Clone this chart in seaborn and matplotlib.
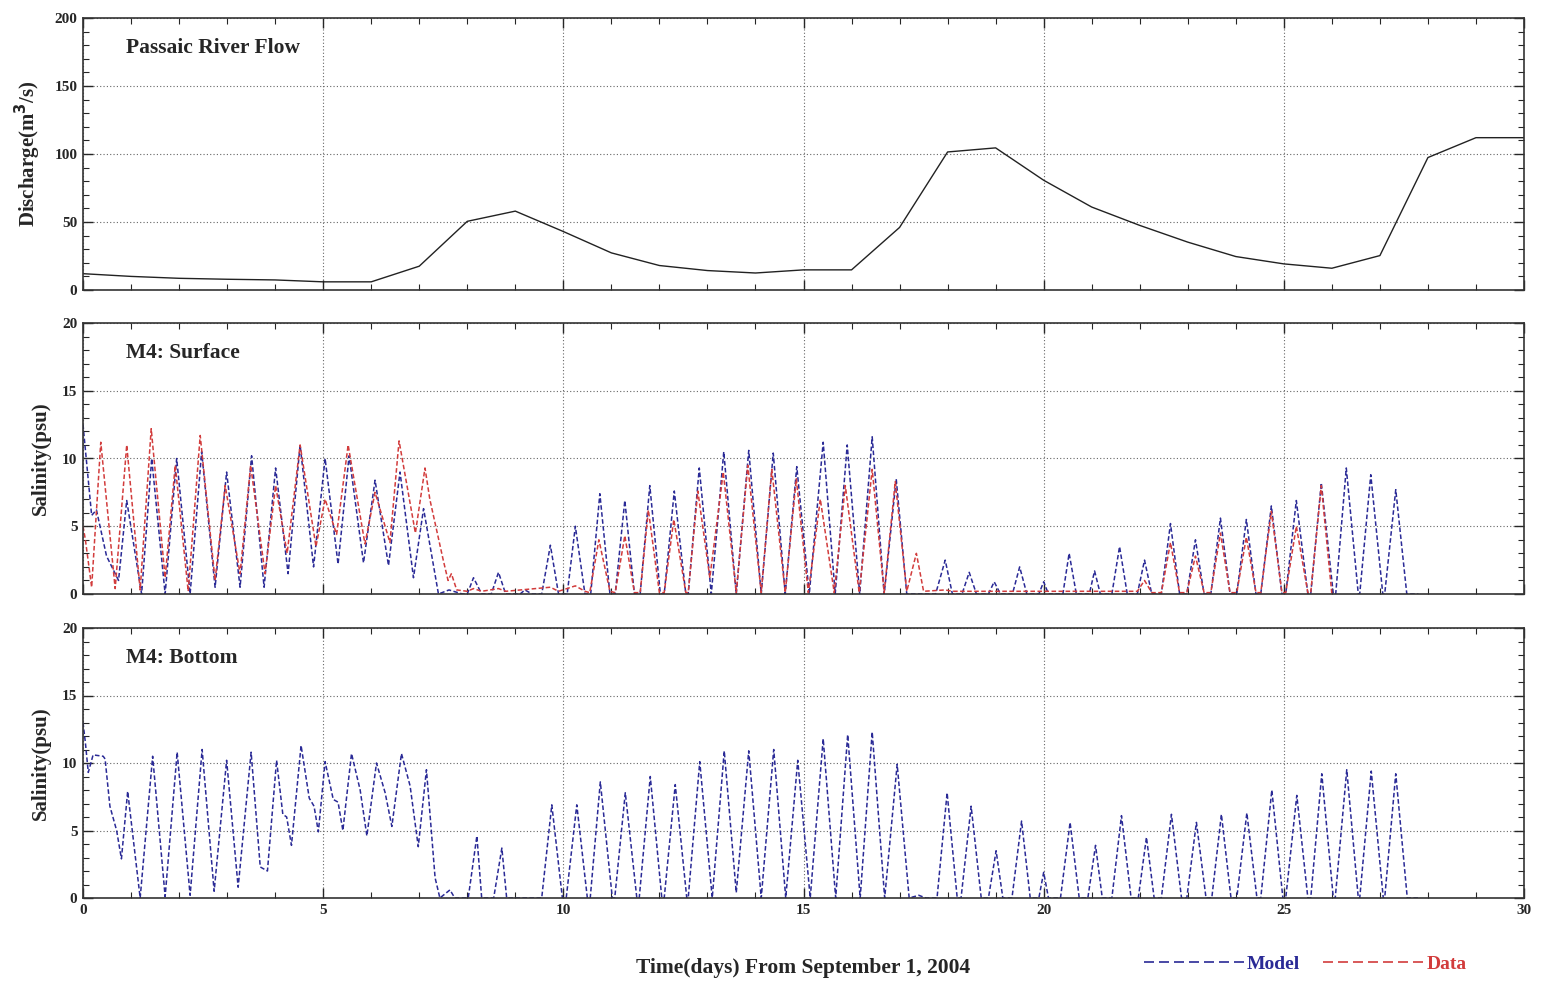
import matplotlib
matplotlib.use("Agg")
import matplotlib.pyplot as plt
from matplotlib.lines import Line2D
from matplotlib.ticker import MultipleLocator
import numpy as np
import pandas as pd
import seaborn as sns

# Passaic river discharge (m3/s), daily
flow_day = [0, 1, 2, 3, 4, 5, 6, 7, 8, 9, 10, 11, 12, 13, 14, 15, 16, 17, 18, 19,
            20, 21, 22, 23, 24, 25, 26, 27, 28, 29, 30]
flow_q = [12, 10, 8.6, 7.9, 7.4, 6, 6, 17.5, 50.5, 58, 43, 27.3, 18, 14.3, 12.5, 14.8,
          14.8, 46, 101.5, 104.5, 80.7, 61, 47.5, 35.2, 24.6, 19.2, 16, 25.3, 97.4, 112, 112]

# M4 surface salinity, model (turning points)
surf_model_t = [0.0, 0.12, 0.18, 0.28, 0.49, 0.74, 0.91, 1.22, 1.43, 1.71, 1.95, 2.23,
                2.47, 2.75, 2.99, 3.27, 3.51, 3.77, 4.01, 4.27, 4.52, 4.80, 5.04, 5.31,
                5.54, 5.84, 6.08, 6.36, 6.60, 6.88, 7.09, 7.40, 7.62, 7.9, 8.0, 8.13,
                8.3, 8.5, 8.65, 8.8, 9.1, 9.2, 9.35, 9.55, 9.73, 9.9, 10.08, 10.25,
                10.45, 10.57, 10.76, 10.97, 11.08, 11.28, 11.48, 11.6, 11.80, 12.02,
                12.1, 12.31, 12.55, 12.6, 12.83, 13.08, 13.34, 13.6, 13.86, 14.12,
                14.37, 14.62, 14.86, 15.12, 15.41, 15.66, 15.91, 16.17, 16.43, 16.68,
                16.93, 17.15, 17.75, 17.95, 18.1, 18.3, 18.45, 18.6, 18.85, 18.97,
                19.1, 19.35, 19.50, 19.65, 19.9, 20.0, 20.1, 20.4, 20.53, 20.68,
                20.95, 21.06, 21.18, 21.42, 21.58, 21.74, 21.95, 22.10, 22.25, 22.45,
                22.64, 22.83, 22.98, 23.16, 23.34, 23.48, 23.68, 23.88, 24.02, 24.22,
                24.42, 24.52, 24.74, 24.96, 25.04, 25.26, 25.5, 25.56, 25.78, 26.03,
                26.08, 26.30, 26.55, 26.58, 26.81, 27.06, 27.1, 27.33, 27.56, 27.8]
surf_model_s = [12.5, 8.0, 5.8, 6.2, 2.8, 1.0, 6.9, 0.0, 10.0, 0.0, 10.0, 0.0,
                10.5, 0.5, 9.0, 0.5, 10.2, 0.5, 9.3, 1.5, 11.0, 2.0, 10.0, 2.2,
                10.2, 2.3, 8.4, 2.1, 9.0, 1.2, 6.3, 0.0, 0.3, 0.0, 0.0, 1.2,
                0.0, 0.0, 1.6, 0.0, 0.0, 0.3, 0.0, 0.0, 3.6, 0.0, 0.0, 5.0,
                0.0, 0.0, 7.4, 0.0, 0.0, 6.9, 0.0, 0.0, 8.0, 0.0,
                0.0, 7.6, 0.0, 0.0, 9.3, 0.0, 10.5, 0.0, 10.6, 0.0,
                10.4, 0.0, 9.4, 0.0, 11.2, 0.0, 11.0, 0.0, 11.6, 0.0,
                8.5, 0.0, 0.0, 2.5, 0.0, 0.0, 1.6, 0.0, 0.0, 0.9,
                0.0, 0.0, 2.0, 0.0, 0.0, 0.9, 0.0, 0.0, 3.0, 0.0,
                0.0, 1.7, 0.0, 0.0, 3.5, 0.0, 0.0, 2.5, 0.0, 0.0,
                5.2, 0.0, 0.0, 4.0, 0.0, 0.0, 5.6, 0.0, 0.0, 5.5,
                0.0, 0.0, 6.5, 0.0, 0.0, 6.9, 0.0, 0.0, 8.2, 0.0,
                0.0, 9.3, 0.0, 0.0, 8.8, 0.0, 0.0, 7.7, 0.0, 0.0]

# M4 surface salinity, observed data
surf_data_t = [0.0, 0.05, 0.18, 0.37, 0.67, 0.91, 1.19, 1.42, 1.71, 1.92, 2.19, 2.44,
               2.75, 2.96, 3.27, 3.49, 3.79, 4.01, 4.25, 4.52, 4.85, 5.04, 5.28, 5.52,
               5.87, 6.08, 6.39, 6.58, 6.92, 7.12, 7.22, 7.5, 7.6, 7.67, 7.78, 8.0,
               8.13, 8.3, 8.65, 8.8, 9.73, 9.9, 10.25, 10.45, 10.55, 10.74, 10.97,
               11.08, 11.28, 11.48, 11.6, 11.77, 12.0, 12.1, 12.30, 12.55, 12.6, 12.80,
               13.05, 13.33, 13.6, 13.84, 14.12, 14.34, 14.62, 14.85, 15.1, 15.35,
               15.64, 15.87, 16.16, 16.43, 16.68, 16.91, 17.15, 17.35, 17.5, 17.95,
               18.1, 21.95, 22.10, 22.25, 22.45, 22.64, 22.83, 22.98, 23.16, 23.34,
               23.48, 23.68, 23.88, 24.02, 24.22, 24.42, 24.52, 24.74, 24.96, 25.04,
               25.26, 25.5, 25.56, 25.78, 26.0]
surf_data_s = [5.0, 4.0, 0.5, 11.2, 0.4, 11.0, 0.3, 12.2, 1.2, 9.5, 0.2, 11.7,
               1.0, 8.0, 1.5, 9.5, 1.5, 8.0, 3.0, 11.0, 3.5, 7.0, 4.4, 11.0,
               3.7, 7.5, 3.8, 11.3, 4.5, 9.3, 7.0, 2.5, 1.0, 1.5, 0.3, 0.2,
               0.4, 0.2, 0.4, 0.2, 0.5, 0.2, 0.6, 0.2, 0.1, 4.0, 0.2,
               0.1, 4.3, 0.1, 0.1, 6.2, 0.1, 0.1, 5.5, 0.1, 0.1, 7.6,
               1.2, 9.0, 0.1, 9.5, 0.1, 9.2, 0.1, 8.5, 0.1, 7.0,
               0.1, 8.0, 0.1, 9.2, 0.1, 8.3, 0.2, 3.0, 0.2, 0.3,
               0.2, 0.2, 1.0, 0.1, 0.1, 3.8, 0.1, 0.1, 2.8, 0.1,
               0.1, 4.5, 0.1, 0.1, 4.2, 0.1, 0.1, 6.1, 0.1, 0.1,
               5.0, 0.1, 0.1, 8.0, 0.0]

# M4 bottom salinity, model
bot_model_t = [0.0, 0.05, 0.11, 0.21, 0.42, 0.46, 0.56, 0.70, 0.80, 0.93, 1.19, 1.45,
               1.71, 1.96, 2.23, 2.48, 2.73, 2.99, 3.23, 3.50, 3.69, 3.84, 4.03, 4.16,
               4.24, 4.34, 4.54, 4.71, 4.81, 4.90, 5.04, 5.21, 5.31, 5.41, 5.59, 5.77,
               5.91, 6.11, 6.29, 6.43, 6.63, 6.81, 6.98, 7.15, 7.33, 7.43, 7.64, 7.74,
               8.02, 8.20, 8.30, 8.55, 8.72, 8.82, 9.55, 9.76, 9.98, 10.06, 10.28,
               10.5, 10.56, 10.77, 11.02, 11.07, 11.29, 11.53, 11.58, 11.81, 12.05,
               12.1, 12.33, 12.57, 12.6, 12.84, 13.1, 13.35, 13.6, 13.86, 14.12, 14.38,
               14.63, 14.88, 15.14, 15.41, 15.67, 15.92, 16.18, 16.43, 16.69, 16.95,
               17.2, 17.40, 17.55, 17.78, 17.99, 18.2, 18.28, 18.49, 18.7, 18.85,
               19.01, 19.15, 19.34, 19.54, 19.72, 19.9, 20.0, 20.1, 20.35, 20.55,
               20.74, 20.92, 21.08, 21.22, 21.42, 21.62, 21.82, 21.97, 22.14, 22.3,
               22.45, 22.66, 22.87, 22.98, 23.18, 23.38, 23.5, 23.70, 23.9, 24.02,
               24.23, 24.44, 24.52, 24.75, 24.98, 25.04, 25.27, 25.5, 25.56, 25.79,
               26.03, 26.07, 26.31, 26.55, 26.58, 26.82, 27.07, 27.1, 27.33, 27.57, 27.8]
bot_model_s = [13.0, 11.5, 9.3, 10.6, 10.5, 10.3, 6.8, 5.0, 2.9, 7.9, 0.0, 10.5,
               0.1, 10.8, 0.2, 11.0, 0.5, 10.2, 0.8, 10.8, 2.3, 2.0, 10.2, 6.2,
               6.0, 3.9, 11.3, 7.4, 6.8, 4.9, 10.1, 7.3, 7.1, 5.0, 10.7, 8.0,
               4.6, 10.0, 7.8, 5.3, 10.7, 8.3, 3.8, 9.5, 1.5, 0.0, 0.6, 0.0,
               0.0, 4.6, 0.0, 0.0, 3.7, 0.0, 0.0, 6.9, 0.0, 0.0, 6.9,
               0.0, 0.0, 8.6, 0.0, 0.0, 7.8, 0.0, 0.0, 9.0, 0.0,
               0.0, 8.4, 0.0, 0.0, 10.1, 0.0, 10.9, 0.4, 10.9, 0.0, 11.0,
               0.0, 10.2, 0.0, 11.8, 0.0, 12.1, 0.0, 12.3, 0.0, 9.9,
               0.0, 0.2, 0.0, 0.0, 7.8, 0.0, 0.0, 6.8, 0.0, 0.0,
               3.5, 0.0, 0.0, 5.7, 0.0, 0.0, 1.9, 0.0, 0.0, 5.6,
               0.0, 0.0, 3.9, 0.0, 0.0, 6.1, 0.0, 0.0, 4.5, 0.0,
               0.0, 6.2, 0.0, 0.0, 5.6, 0.0, 0.0, 6.2, 0.0, 0.0,
               6.3, 0.0, 0.0, 8.0, 0.0, 0.0, 7.6, 0.0, 0.0, 9.2,
               0.0, 0.0, 9.5, 0.0, 0.0, 9.4, 0.0, 0.0, 9.2, 0.0, 0.0]

model_color = "#2a2a96"
data_color = "#d23c3c"
serif = "Liberation Serif"

sns.set_style("ticks")
plt.rcParams["font.family"] = [serif, "DejaVu Serif"]
plt.rcParams["font.weight"] = "bold"

fig = plt.figure(figsize=(15.43, 9.88), dpi=100)
left, width = 83 / 1543, 1441 / 1543
ax1 = fig.add_axes([left, 1 - 290 / 988, width, 272 / 988])
ax2 = fig.add_axes([left, 1 - 594 / 988, width, 271 / 988])
ax3 = fig.add_axes([left, 1 - 898 / 988, width, 270 / 988])

dash = (0, (3, 1.6))

sns.lineplot(x=flow_day, y=flow_q, ax=ax1, color="#222222", lw=1.0, sort=False, estimator=None)
sns.lineplot(x=surf_model_t, y=surf_model_s, ax=ax2, color=model_color, lw=1.1,
             linestyle=dash, sort=False, estimator=None)
sns.lineplot(x=surf_data_t, y=surf_data_s, ax=ax2, color=data_color, lw=1.1,
             linestyle=dash, sort=False, estimator=None)
sns.lineplot(x=bot_model_t, y=bot_model_s, ax=ax3, color=model_color, lw=1.1,
             linestyle=dash, sort=False, estimator=None)

panels = [(ax1, 200, 50, 10, "Discharge(m$^\\mathbf{3}$/s)", "Passaic River Flow"),
          (ax2, 20, 5, 1, "Salinity(psu)", "M4: Surface"),
          (ax3, 20, 5, 1, "Salinity(psu)", "M4: Bottom")]

for ax, ymax, ymaj, ymin, ylab, title in panels:
    ax.set_xlim(0, 30)
    ax.set_ylim(0, ymax)
    ax.xaxis.set_major_locator(MultipleLocator(5))
    ax.xaxis.set_minor_locator(MultipleLocator(1))
    ax.yaxis.set_major_locator(MultipleLocator(ymaj))
    ax.yaxis.set_minor_locator(MultipleLocator(ymin))
    ax.tick_params(which="both", direction="in", top=True, right=True)
    ax.tick_params(which="major", length=7, width=1, labelsize=11, pad=4)
    ax.tick_params(which="minor", length=4, width=0.8)
    ax.grid(True, which="major", linestyle=(0, (1, 2)), color="#666666", lw=0.8)
    for sp in ax.spines.values():
        sp.set_linewidth(1.2)
        sp.set_color("#333333")
    ax.set_ylabel(ylab, fontsize=15, fontweight="bold", labelpad=8)
    ax.set_xlabel("")
    ax.text(0.03, 0.87, title, transform=ax.transAxes, fontsize=15.5, fontweight="bold")
    for lab in ax.get_yticklabels():
        lab.set_fontweight("bold")

ax1.tick_params(labelbottom=False)
ax2.tick_params(labelbottom=False)
for lab in ax3.get_xticklabels():
    lab.set_fontweight("bold")

fig.text(803 / 1543, 1 - 968 / 988, "Time(days) From September 1, 2004", ha="center",
         va="center", fontsize=15.5, fontweight="bold")

handles = [Line2D([], [], color=model_color, lw=1.2, linestyle=(0, (6, 3))),
           Line2D([], [], color=data_color, lw=1.2, linestyle=(0, (6, 3)))]
fig.legend(handles, ["Model", "Data"], loc="center", bbox_to_anchor=(1305 / 1543, 1 - 964 / 988),
           ncol=2, frameon=False, handlelength=5.2, handletextpad=0.1, columnspacing=1.2,
           labelcolor=[model_color, data_color], prop={"family": serif, "weight": "bold", "size": 14})

fig.savefig("out.png", dpi=100)
